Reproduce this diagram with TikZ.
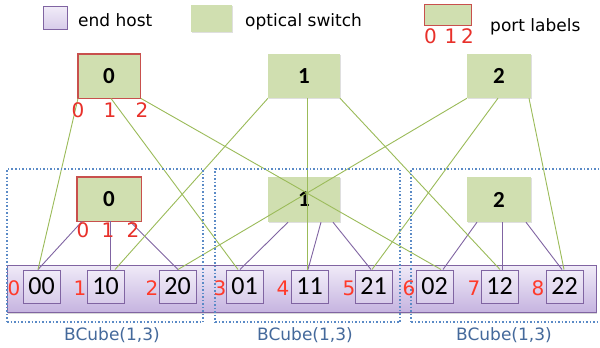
\documentclass[tikz,border=0pt]{standalone}
\usepackage{fontspec}
\setmainfont{DejaVu Sans}
\newfontfamily\calfont{Carlito}
\usetikzlibrary{shadows,calc}
\definecolor{swfill}{HTML}{D0DFB0}
\definecolor{redb}{HTML}{C8504D}
\definecolor{gline}{HTML}{9BBB59}
\definecolor{pline}{HTML}{8064A2}
\definecolor{hosttop}{HTML}{F1ECF8}
\definecolor{hostbot}{HTML}{D8CCEA}
\definecolor{bartop}{HTML}{F0EBF8}
\definecolor{barbot}{HTML}{C6B4E0}
\definecolor{dotblue}{HTML}{5A8AC6}
\definecolor{bcblue}{HTML}{44699B}
\definecolor{portred}{HTML}{E8302A}
\definecolor{numred}{HTML}{FF3A2A}
\begin{document}
\begin{tikzpicture}[x=1pt,y=-1pt,
  sw/.style={fill=swfill, inner sep=0pt, minimum height=44pt,
    drop shadow={shadow xshift=1pt,shadow yshift=-1.2pt,opacity=0.25},
    font=\calfont\bfseries\fontsize{23}{23}\selectfont},
  swred/.style={sw, draw=redb, line width=0.9pt},
  redframe/.style={draw=redb, line width=0.9pt},
  hostbox/.style={draw=pline, line width=1pt, top color=hosttop, bottom color=hostbot,
    minimum width=37pt, minimum height=33pt, inner sep=0pt,
    drop shadow={shadow xshift=0.8pt,shadow yshift=-0.8pt,opacity=0.2},
    font=\calfont\fontsize{26}{26}\selectfont},
  barbox/.style={draw=pline, line width=1pt, top color=bartop, bottom color=barbot,
    minimum width=589pt, minimum height=47pt, inner sep=0pt,
    drop shadow={shadow xshift=1.2pt,shadow yshift=-1.5pt,opacity=0.3}},
  dotbox/.style={draw=dotblue, line width=1.6pt, dash pattern=on 1.5pt off 2pt, inner sep=0pt},
  gl/.style={draw=gline, line width=0.9pt},
  pl/.style={draw=pline, line width=0.9pt},
  portlab/.style={text=portred, anchor=base, inner sep=0pt, font=\fontsize{20}{20}\selectfont},
  numlab/.style={text=numred, anchor=base, inner sep=0pt, font=\fontsize{20}{20}\selectfont},
  legtext/.style={anchor=base west, inner sep=0pt, font=\fontsize{17}{17}\selectfont},
  bclab/.style={text=bcblue, anchor=base, inner sep=0pt, font=\fontsize{17}{17}\selectfont}
]
\useasboundingbox (0,0) rectangle (600,348);
\fill[white] (0,0) rectangle (600,348);

% legend
\node[hostbox, minimum width=24pt, minimum height=23pt] (lgh) at (55,17.5) {};
\node[legtext] (lght) at (78,26) {end host};
\node[sw, minimum width=41pt, minimum height=27pt] (lgs) at (211.5,18.5) {};
\node[legtext] (lgst) at (245,27) {optical switch};
\node[swred, minimum width=47pt, minimum height=21pt] (lgp) at (447.5,14.5) {};
\node[portlab] (lgp0) at (430.5,43) {0};
\node[portlab] (lgp1) at (451,43) {1};
\node[portlab] (lgp2) at (467.5,43) {2};
\node[legtext] (lgpt) at (490,31) {port labels};

% bar of end hosts
\node[barbox] (bar) at (301.5,288.5) {};

% hosts
\node[hostbox] (h00) at (41.5,286.5) {00};
\node[hostbox] (h10) at (105.5,286.5) {10};
\node[hostbox] (h20) at (177.5,286.5) {20};
\node[hostbox] (h01) at (244.5,286.5) {01};
\node[hostbox] (h11) at (309.5,286.5) {11};
\node[hostbox] (h21) at (373.5,286.5) {21};
\node[hostbox] (h02) at (434.5,286.5) {02};
\node[hostbox] (h12) at (499.5,286.5) {12};
\node[hostbox] (h22) at (564.5,286.5) {22};

% switches
\node[swred, minimum width=62pt] (T0) at (109,76) {0};
\node[sw, minimum width=72pt] (T1) at (304,76) {1};
\node[sw, minimum width=64pt] (T2) at (499,76) {2};
\node[swred, minimum width=64pt] (M0) at (109,199) {0};
\node[sw, minimum width=72pt, minimum height=45pt] (M1) at (304,199.5) {1};
\node[sw, minimum width=64pt, minimum height=45pt] (M2) at (499,199.5) {2};
\draw[redframe] (M0.south west) rectangle (M0.north east);
\draw[redframe] (T0.south west) rectangle (T0.north east);

% purple links: level-0 switches to hosts
\draw[pl] ([xshift=-27pt]M0.south) -- ([xshift=-3.5pt]h00.north);
\draw[pl] ([xshift=1pt]M0.south) -- ([xshift=4.5pt]h10.north);
\draw[pl] ([xshift=21pt]M0.south) -- ([xshift=0.5pt]h20.north);
\draw[pl] ([xshift=-16pt]M1.south) -- ([xshift=-4.5pt]h01.north);
\draw[pl] ([xshift=17pt]M1.south) -- ([xshift=-1.5pt]h11.north);
\draw[pl] ([xshift=29pt]M1.south) -- ([xshift=-2.5pt]h21.north);
\draw[pl] ([xshift=-22pt]M2.south) -- ([xshift=8.5pt]h02.north);
\draw[pl] ([xshift=3pt]M2.south) -- ([xshift=2.5pt]h12.north);
\draw[pl] ([xshift=27pt]M2.south) -- ([xshift=-2.5pt]h22.north);

% green links: level-1 switches to hosts
\draw[gl] ([xshift=-31pt]T0.south) -- ([xshift=-3.5pt]h00.north);
\draw[gl] ([xshift=2pt]T0.south) -- ([xshift=-6.5pt]h01.north);
\draw[gl] ([xshift=32pt]T0.south) -- ([xshift=6.5pt]h02.north);
\draw[gl] ([xshift=-36pt]T1.south) -- ([xshift=9.5pt]h10.north);
\draw[gl] ([xshift=3pt]T1.south) -- ([xshift=-2.5pt]h11.north);
\draw[gl] ([xshift=36pt]T1.south) -- ([xshift=0.5pt]h12.north);
\draw[gl] ([xshift=-32pt]T2.south) -- ([xshift=0.5pt]h20.north);
\draw[gl] ([xshift=-1pt]T2.south) -- ([xshift=-1.5pt]h21.north);
\draw[gl] ([xshift=30pt]T2.south) -- ([xshift=-0.5pt]h22.north);

% dotted BCube(1,3) boxes
\node[dotbox, minimum width=196pt, minimum height=153pt] (c1) at (105,245.5) {};
\node[dotbox, minimum width=185pt, minimum height=153pt] (c2) at (307.5,245.5) {};
\node[dotbox, minimum width=196pt, minimum height=153pt] (c3) at (509,245.5) {};

% port labels
\node[portlab] (t0p0) at (78,117) {0};
\node[portlab] (t0p1) at (110,117) {1};
\node[portlab] (t0p2) at (142,117) {2};
\node[portlab] (m0p0) at (83,237) {0};
\node[portlab] (m0p1) at (108,237) {1};
\node[portlab] (m0p2) at (133,237) {2};

% host numbers
\node[numlab] (n0) at (14,295) {0};
\node[numlab] (n1) at (80,295) {1};
\node[numlab] (n2) at (152,295) {2};
\node[numlab] (n3) at (220,295) {3};
\node[numlab] (n4) at (283,295) {4};
\node[numlab] (n5) at (349,295) {5};
\node[numlab] (n6) at (409,295) {6};
\node[numlab] (n7) at (474,295) {7};
\node[numlab] (n8) at (538,295) {8};

% BCube labels
\node[bclab] (b1) at (112,340) {BCube(1,3)};
\node[bclab] (b2) at (305,340) {BCube(1,3)};
\node[bclab] (b3) at (504,340) {BCube(1,3)};
\end{tikzpicture}
\end{document}
